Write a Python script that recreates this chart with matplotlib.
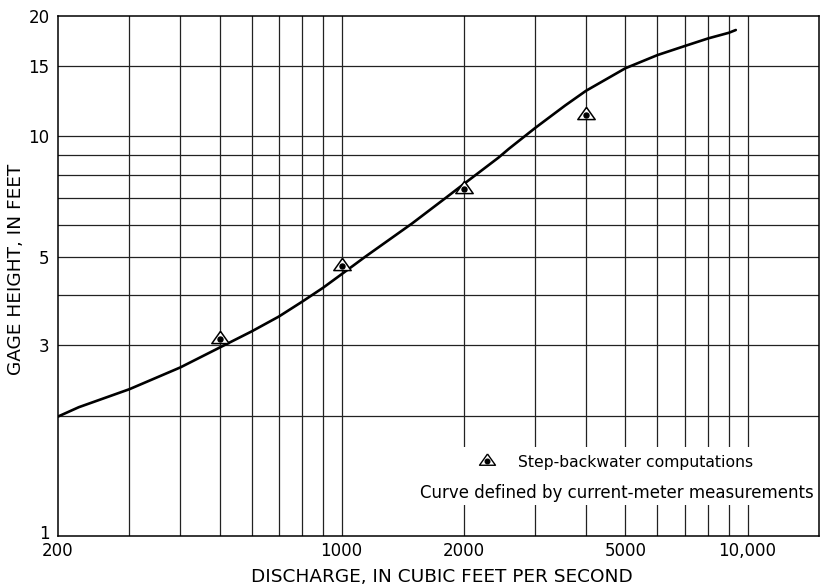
import matplotlib
matplotlib.use('Agg')
import matplotlib.pyplot as plt
from matplotlib.patches import Rectangle
from matplotlib.ticker import NullLocator
from matplotlib.transforms import ScaledTranslation

plt.rcParams['font.family'] = ['DejaVu Sans']

# Rating curve (discharge cfs, gage height ft)
curve_q = [200, 225, 300, 400, 500, 600, 700, 800, 900, 1000, 1144, 1490, 1800,
           2000, 2436, 2580, 3000, 3556, 4000, 5000, 6000, 7000, 8000, 9000, 9356]
curve_h = [1.99, 2.10, 2.33, 2.64, 2.96, 3.25, 3.54, 3.86, 4.18, 4.52, 5.0, 6.05, 7.0,
           7.6, 8.85, 9.3, 10.5, 11.95, 13.0, 14.8, 15.97, 16.82, 17.58, 18.16, 18.45]

# Step-backwater computation points
step_q = [500, 1000, 2000, 4000]
step_h = [3.11, 4.74, 7.37, 11.3]

x_ticks = [200, 1000, 2000, 5000, 10000]
x_tick_labels = ['200', '1000', '2000', '5000', '10,000']
y_ticks = [1, 3, 5, 10, 15, 20]
y_tick_labels = ['1', '3', '5', '10', '15', '20']
x_grid = [300, 400, 500, 600, 700, 800, 900, 1000, 2000, 3000, 4000, 5000,
          6000, 7000, 8000, 9000, 10000]
y_grid = [2, 3, 4, 5, 6, 7, 8, 9, 10, 15]

# open triangle, dot sits in its lower half
tri = [(0, 0.94), (-1, -0.47), (1, -0.47), (0, 0.94)]

fig = plt.figure(figsize=(8.25, 5.87), dpi=100)
ax = fig.add_axes([58 / 825, 1 - 536 / 587, 761 / 825, 520 / 587])
ax.set_xscale('log')
ax.set_yscale('log')
ax.set_xlim(200, 15000)
ax.set_ylim(1, 20)

for gx in x_grid:
    ax.axvline(gx, color='#222222', lw=0.9, zorder=1)
for gy in y_grid:
    ax.axhline(gy, color='#222222', lw=0.9, zorder=1)

ax.xaxis.set_minor_locator(NullLocator())
ax.yaxis.set_minor_locator(NullLocator())
ax.set_xticks(x_ticks)
ax.set_xticklabels(x_tick_labels)
ax.set_yticks(y_ticks)
ax.set_yticklabels(y_tick_labels)
ax.tick_params(length=0, labelsize=12)
ax.tick_params(axis='x', pad=4)
ax.tick_params(axis='y', pad=6)

# lift the "1" a little so it clears the "200" below it
lbl = ax.get_yticklabels()[0]
lbl.set_transform(lbl.get_transform() + ScaledTranslation(0, 3 / 72, fig.dpi_scale_trans))

for s in ax.spines.values():
    s.set_linewidth(1.1)
    s.set_color('black')

ax.plot(curve_q, curve_h, color='black', lw=1.9, zorder=3,
        solid_capstyle='round', solid_joinstyle='round')

# legend box: white patch hiding the grid
ax.add_patch(Rectangle((0.469, 0.06), 0.529, 0.111, transform=ax.transAxes,
                       facecolor='white', edgecolor='none', zorder=2))

# points: open triangle with a dot
ax.plot(step_q, step_h, linestyle='none', marker=tri, markersize=12.5,
        markerfacecolor='white', markeredgecolor='black', markeredgewidth=1.1, zorder=4)
ax.plot(step_q, step_h, linestyle='none', marker='o', markersize=3.6,
        color='black', zorder=5)

ax.plot([0.564], [0.144], transform=ax.transAxes, linestyle='none', marker=tri,
        markersize=11.5, markerfacecolor='white', markeredgecolor='black',
        markeredgewidth=1.0, zorder=4)
ax.plot([0.564], [0.144], transform=ax.transAxes, linestyle='none', marker='o',
        markersize=3.3, color='black', zorder=5)
ax.text(0.6045, 0.133, 'Step-backwater computations', transform=ax.transAxes,
        fontsize=11.25, va='baseline', ha='left', zorder=5)
ax.text(0.4757, 0.0725, 'Curve defined by current-meter measurements',
        transform=ax.transAxes, fontsize=12, va='baseline', ha='left', zorder=5)

ax.set_xlabel('DISCHARGE, IN CUBIC FEET PER SECOND', fontsize=13.3)
ax.set_ylabel('GAGE HEIGHT, IN FEET', fontsize=13.3)
ax.xaxis.set_label_coords(0.505, -0.062)
ax.yaxis.set_label_coords(-0.0434, 0.513)

fig.savefig('out.png', dpi=100)
